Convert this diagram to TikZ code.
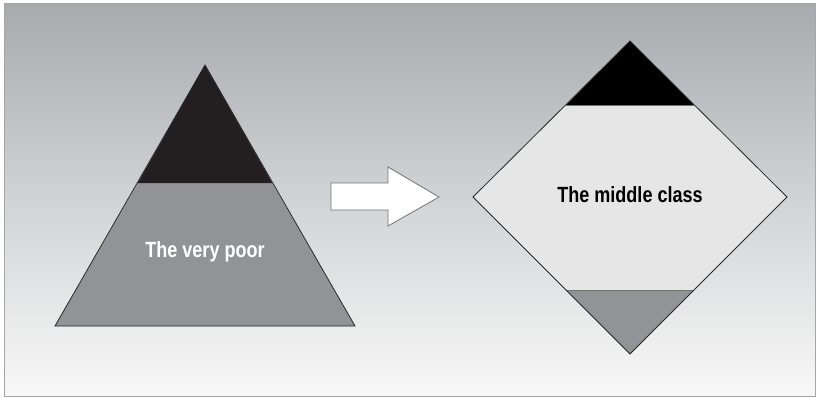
\documentclass[tikz,border=0pt]{standalone}
\usepackage{fontspec}
\setmainfont{Liberation Sans}
\usepackage{tikz}
\usetikzlibrary{positioning}

\definecolor{bgtop}{HTML}{A9AAAE}
\definecolor{bgmid}{HTML}{D2D3D5}
\definecolor{bgbot}{HTML}{F8F8F8}
\definecolor{darkband}{HTML}{231F20}
\definecolor{greyband}{HTML}{929396}
\definecolor{lightband}{HTML}{E6E6E7}

% condensed bold caption
\newcommand{\condtext}[1]{\scalebox{0.82}[1]{#1}}

\begin{document}
\begin{tikzpicture}[
    x=1pt, y=-1pt,
    outline/.style={draw=black!85, line width=0.8pt, line join=miter},
    divider/.style={draw=black!55, line width=0.6pt},
    label/.style={font=\fontsize{22}{24}\selectfont\bfseries, inner sep=0pt},
    blockarrow/.style={draw=black!55, fill=white, line width=0.8pt, line join=miter}
]
% Background and frame
\fill[white] (0,0) rectangle (820,397);
\shade[top color=bgtop, bottom color=bgbot, middle color=bgmid] (4,3) rectangle (815,396);
\draw[black!35, line width=0.8pt] (4,3) rectangle (815,396);
\useasboundingbox (0,0) rectangle (820,397);

% Pyramid (left)
\coordinate (apex) at (205,65);
\coordinate (bl)   at (55,326);
\coordinate (br)   at (355,326);
\coordinate (cutl) at (137.8,183);
\coordinate (cutr) at (272.2,183);
\fill[greyband] (cutl) -- (cutr) -- (br) -- (bl) -- cycle;
\fill[darkband] (apex) -- (cutr) -- (cutl) -- cycle;
\draw[outline] (apex) -- (br) -- (bl) -- cycle;
\node[label, white] (poor) at (205,252) {\condtext{The very poor}};

% Arrow between the shapes
\draw[blockarrow] (331,183) -- (388,183) -- (388,167) -- (439,197)
    -- (388,226) -- (388,210) -- (331,210) -- cycle;

% Diamond (right)
\coordinate (top)   at (630,41);
\coordinate (right) at (787,197);
\coordinate (bot)   at (630,354);
\coordinate (left)  at (473,197);
\coordinate (ul) at (566,105);
\coordinate (ur) at (694,105);
\coordinate (ll) at (566,290);
\coordinate (lr) at (694,290);
\fill[lightband] (top) -- (right) -- (bot) -- (left) -- cycle;
\fill[black] (top) -- (ur) -- (ul) -- cycle;
\fill[greyband] (ll) -- (lr) -- (bot) -- cycle;
\draw[divider] (ul) -- (ur);
\draw[divider] (ll) -- (lr);
\draw[outline] (top) -- (right) -- (bot) -- (left) -- cycle;
\node[label, black] (middle) at (630,195) {\condtext{The middle class}};
\end{tikzpicture}
\end{document}
